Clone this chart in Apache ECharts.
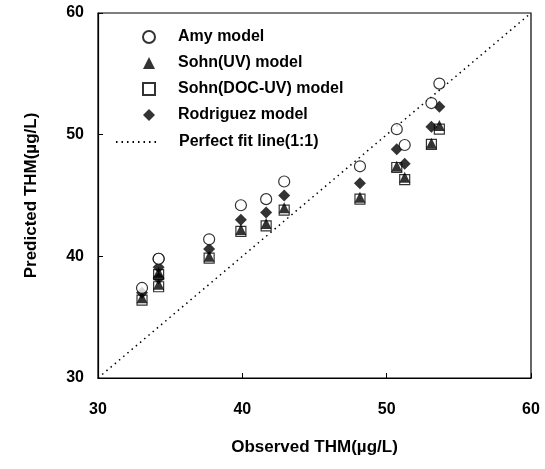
<!DOCTYPE html>
<html><head><meta charset="utf-8">
<script src="https://cdn.jsdelivr.net/npm/echarts@6/dist/echarts.min.js"></script>
<style>html,body{margin:0;padding:0;background:#fff}#c{width:545px;height:469px}</style>
</head><body><div id="c"></div>
<script>
// Observed THM (x) for each sample
var observed = [33.05, 34.2, 34.2, 37.7, 39.9, 41.65, 42.9, 48.15, 50.7, 51.25, 53.1, 53.65];
var amyModel = [37.4, 39.8, 39.8, 41.4, 44.2, 44.7, 46.15, 47.4, 50.45, 49.15, 52.6, 54.2];
var sohnUV   = [36.6, 38.7, 37.7, 40.0, 42.2, 42.7, 44.0, 44.85, 47.4, 46.5, 49.3, 50.75];
var sohnDOC  = [36.4, 38.5, 37.5, 39.85, 42.05, 42.5, 43.8, 44.7, 47.3, 46.3, 49.2, 50.45];
var rodriguez= [37.0, 39.1, 38.2, 40.6, 43.0, 43.6, 45.0, 46.0, 48.8, 47.6, 50.65, 52.3];
var fitLine = [30, 60];
var xTicks = [30, 40, 50, 60];
var yTicks = [30, 40, 50, 60];

function pairs(ys){ return observed.map(function(x,i){ return [x, ys[i]]; }); }

var chart = echarts.init(document.getElementById('c'));
var FONT = '"Liberation Sans", Arial, sans-serif';
var legendText = { fontFamily: FONT, fontWeight: 'bold', fontSize: 16, color: '#000', padding: [0,0,0,18] };
chart.setOption({
  animation: false,
  backgroundColor: '#fff',
  grid: { left: 98, right: 14, top: 13, bottom: 91, show: true, borderColor: '#000', borderWidth: 1.2 },
  legend: [{
    orient: 'vertical', left: 137, top: 24, itemGap: 10,
    itemWidth: 12, itemHeight: 12,
    data: ['Amy model', 'Sohn(UV) model', 'Sohn(DOC-UV) model', 'Rodriguez model'],
    textStyle: legendText
  }, {
    orient: 'vertical', left: 110, top: 129,
    itemWidth: 40, itemHeight: 12,
    itemStyle: { opacity: 0 },
    data: ['Perfect fit line(1:1)'],
    textStyle: legendText
  }],
  xAxis: {
    type: 'value', min: xTicks[0], max: xTicks[xTicks.length-1], interval: 10,
    name: 'Observed THM(µg/L)', nameLocation: 'middle', nameGap: 61,
    nameTextStyle: { fontFamily: FONT, fontWeight: 'bold', fontSize: 17, color: '#000' },
    axisLine: { lineStyle: { color: '#000', width: 1.2 } },
    axisTick: { inside: true, length: 5, lineStyle: { color: '#000' } },
    splitLine: { show: false },
    axisLabel: { margin: 24, fontFamily: FONT, fontWeight: 'bold', fontSize: 16, color: '#000' }
  },
  yAxis: {
    type: 'value', min: yTicks[0], max: yTicks[yTicks.length-1], interval: 10,
    name: 'Predicted THM(µg/L)', nameLocation: 'middle', nameGap: 58, nameRotate: 90,
    nameTextStyle: { fontFamily: FONT, fontWeight: 'bold', fontSize: 17, color: '#000' },
    axisLine: { lineStyle: { color: '#000', width: 1.2 } },
    axisTick: { inside: true, length: 5, lineStyle: { color: '#000' } },
    splitLine: { show: false },
    axisLabel: { margin: 14, fontFamily: FONT, fontWeight: 'bold', fontSize: 16, color: '#000' }
  },
  series: [
    { name: 'Perfect fit line(1:1)', type: 'line', data: [[fitLine[0], fitLine[0]], [fitLine[1], fitLine[1]]],
      symbol: 'none', z: 1,
      lineStyle: { color: '#000', width: 1.5, type: [1.5, 4] }, itemStyle: { color: '#000' } },
    { name: 'Sohn(DOC-UV) model', type: 'scatter', data: pairs(sohnDOC), symbol: 'rect', symbolSize: 10, z: 2,
      itemStyle: { color: 'rgba(255,255,255,0)', borderColor: '#000', borderWidth: 1.2 } },
    { name: 'Sohn(UV) model', type: 'scatter', data: pairs(sohnUV), symbol: 'triangle', symbolSize: 11, z: 3,
      itemStyle: { color: '#000' } },
    { name: 'Rodriguez model', type: 'scatter', data: pairs(rodriguez), symbol: 'diamond', symbolSize: 12, z: 4,
      itemStyle: { color: '#000' } },
    { name: 'Amy model', type: 'scatter', data: pairs(amyModel), symbol: 'circle', symbolSize: 11, z: 5,
      itemStyle: { color: '#fff', borderColor: '#000', borderWidth: 1.2 } }
  ]
});
</script></body></html>
